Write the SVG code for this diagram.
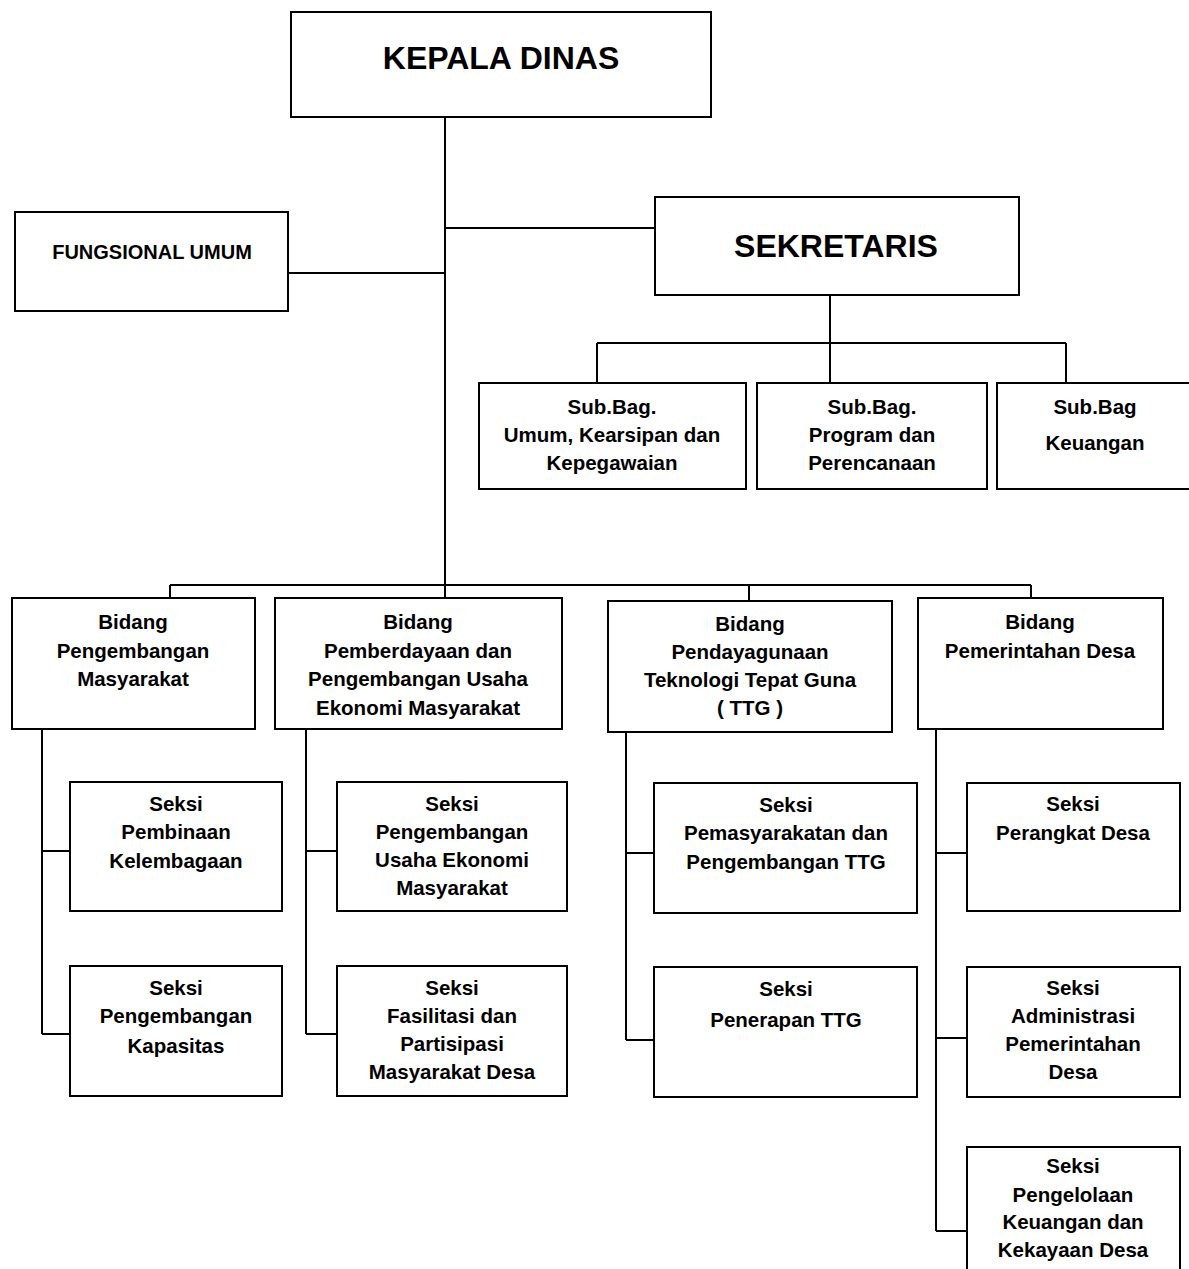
<svg xmlns="http://www.w3.org/2000/svg" width="1189" height="1269" viewBox="0 0 1189 1269">
<style>
.box{fill:#fff;stroke:#000;stroke-width:2}
.ln{fill:none;stroke:#000;stroke-width:2}
text{font-family:"Liberation Sans",Arial,sans-serif;font-weight:bold;fill:#000;text-anchor:middle}
.t{font-size:20.5px}
.big{font-size:32px}
.fu{font-size:20px}
</style>
<rect width="1189" height="1269" fill="#fff"/>
<g id="connectors">
<path class="ln" d="M445,117 V585 M445,228 H655 M288,273 H445"/>
<path class="ln" d="M830,295 V343 M597,343 H1066 M597,343 V383 M830,343 V383 M1066,343 V383"/>
<path class="ln" d="M170,585 H1031 M170,585 V598 M445,585 V598 M749,585 V601 M1031,585 V598"/>
<path class="ln" d="M42,729 V1034 M42,851 H70 M42,1034 H70"/>
<path class="ln" d="M306,729 V1034 M306,851 H337 M306,1034 H337"/>
<path class="ln" d="M626,732 V1040 M626,853 H654 M626,1040 H654"/>
<path class="ln" d="M936,729 V1231 M936,853 H967 M936,1038 H970 M936,1231 H967"/>
</g>
<g id="kepala"><rect class="box" x="291" y="12" width="420" height="105"/><text class="big" x="501" y="69">KEPALA DINAS</text></g>
<g id="fungsional"><rect class="box" x="15" y="212" width="273" height="99"/><text class="fu" x="152" y="259">FUNGSIONAL UMUM</text></g>
<g id="sekretaris"><rect class="box" x="655" y="197" width="364" height="98"/><text class="big" x="836" y="257">SEKRETARIS</text></g>
<g id="subbag1"><rect class="box" x="479" y="383" width="267" height="106"/><text class="t"><tspan x="612" y="414">Sub.Bag.</tspan><tspan x="612" y="442">Umum, Kearsipan dan</tspan><tspan x="612" y="470">Kepegawaian</tspan></text></g>
<g id="subbag2"><rect class="box" x="757" y="383" width="230" height="106"/><text class="t"><tspan x="872" y="414">Sub.Bag.</tspan><tspan x="872" y="442">Program dan</tspan><tspan x="872" y="470">Perencanaan</tspan></text></g>
<g id="subbag3"><rect class="box" x="997" y="383" width="200" height="106"/><text class="t"><tspan x="1095" y="414">Sub.Bag</tspan><tspan x="1095" y="450">Keuangan</tspan></text></g>
<g id="bidang1"><rect class="box" x="12" y="598" width="243" height="131"/><text class="t"><tspan x="133" y="629">Bidang</tspan><tspan x="133" y="658">Pengembangan</tspan><tspan x="133" y="686">Masyarakat</tspan></text></g>
<g id="bidang2"><rect class="box" x="275" y="598" width="287" height="131"/><text class="t"><tspan x="418" y="629">Bidang</tspan><tspan x="418" y="658">Pemberdayaan dan</tspan><tspan x="418" y="686">Pengembangan Usaha</tspan><tspan x="418" y="715">Ekonomi Masyarakat</tspan></text></g>
<g id="bidang3"><rect class="box" x="608" y="601" width="284" height="131"/><text class="t"><tspan x="750" y="631">Bidang</tspan><tspan x="750" y="659">Pendayagunaan</tspan><tspan x="750" y="687">Teknologi Tepat Guna</tspan><tspan x="750" y="715">( TTG )</tspan></text></g>
<g id="bidang4"><rect class="box" x="918" y="598" width="245" height="131"/><text class="t"><tspan x="1040" y="629">Bidang</tspan><tspan x="1040" y="658">Pemerintahan Desa</tspan></text></g>
<g id="seksi1a"><rect class="box" x="70" y="782" width="212" height="129"/><text class="t"><tspan x="176" y="811">Seksi</tspan><tspan x="176" y="839">Pembinaan</tspan><tspan x="176" y="868">Kelembagaan</tspan></text></g>
<g id="seksi1b"><rect class="box" x="70" y="966" width="212" height="130"/><text class="t"><tspan x="176" y="995">Seksi</tspan><tspan x="176" y="1023">Pengembangan</tspan><tspan x="176" y="1053">Kapasitas</tspan></text></g>
<g id="seksi2a"><rect class="box" x="337" y="782" width="230" height="129"/><text class="t"><tspan x="452" y="811">Seksi</tspan><tspan x="452" y="839">Pengembangan</tspan><tspan x="452" y="867">Usaha Ekonomi</tspan><tspan x="452" y="895">Masyarakat</tspan></text></g>
<g id="seksi2b"><rect class="box" x="337" y="966" width="230" height="130"/><text class="t"><tspan x="452" y="995">Seksi</tspan><tspan x="452" y="1023">Fasilitasi dan</tspan><tspan x="452" y="1051">Partisipasi</tspan><tspan x="452" y="1079">Masyarakat Desa</tspan></text></g>
<g id="seksi3a"><rect class="box" x="654" y="783" width="263" height="130"/><text class="t"><tspan x="786" y="812">Seksi</tspan><tspan x="786" y="840">Pemasyarakatan dan</tspan><tspan x="786" y="869">Pengembangan TTG</tspan></text></g>
<g id="seksi3b"><rect class="box" x="654" y="967" width="263" height="130"/><text class="t"><tspan x="786" y="996">Seksi</tspan><tspan x="786" y="1027">Penerapan TTG</tspan></text></g>
<g id="seksi4a"><rect class="box" x="967" y="783" width="213" height="128"/><text class="t"><tspan x="1073" y="811">Seksi</tspan><tspan x="1073" y="840">Perangkat Desa</tspan></text></g>
<g id="seksi4b"><rect class="box" x="967" y="967" width="213" height="130"/><text class="t"><tspan x="1073" y="995">Seksi</tspan><tspan x="1073" y="1023">Administrasi</tspan><tspan x="1073" y="1051">Pemerintahan</tspan><tspan x="1073" y="1079">Desa</tspan></text></g>
<g id="seksi4c"><rect class="box" x="967" y="1147" width="213" height="130"/><text class="t"><tspan x="1073" y="1173">Seksi</tspan><tspan x="1073" y="1202">Pengelolaan</tspan><tspan x="1073" y="1229">Keuangan dan</tspan><tspan x="1073" y="1257">Kekayaan Desa</tspan></text></g>
</svg>
